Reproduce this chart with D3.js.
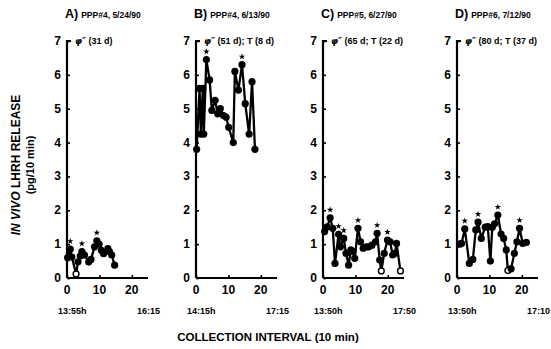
<!DOCTYPE html>
<html>
<head>
<meta charset="utf-8">
<script src="https://cdn.jsdelivr.net/npm/d3@7"></script>
<style>
  body { margin: 0; background: #fff; }
  text, tspan { font-family: "Liberation Sans", Arial, sans-serif; font-weight: bold; fill: #000; }
</style>
</head>
<body>
<script>
// panel data (x = collection interval, y = LHRH pg/10 min)
const aX = [0.2, 1, 1.5, 2.8, 3.4, 4.1, 4.6, 5.4, 6.7, 7.4, 8.5, 9.2, 9.9, 10.6, 11.3, 12.6, 13.1, 13.8, 14.7];
const aY = [0.6, 0.85, 0.62, 0.12, 0.48, 0.65, 0.78, 0.68, 0.47, 0.55, 0.92, 1.1, 1.0, 0.82, 0.72, 0.87, 0.78, 0.68, 0.38];
const aStar = [1, 6, 11];
const aOpen = [3];

const bX = [0.2, 1.1, 1.5, 2.1, 2.4, 3.2, 4.2, 4.9, 5.9, 6.7, 7.5, 8.5, 9.3, 10.1, 11.5, 12.0, 13.1, 14.2, 15.2, 16.4, 17.3, 18.2];
const bY = [3.8, 5.6, 4.25, 5.6, 4.25, 6.45, 5.85, 4.95, 5.25, 4.85, 5.0, 4.8, 4.75, 4.45, 4.0, 6.1, 5.55, 6.3, 5.15, 4.25, 5.8, 3.8];
const bStar = [5, 17];
const bOpen = [];

const cX = [0.5, 1.3, 2.2, 3.0, 3.7, 4.8, 5.4, 6.4, 7.1, 7.9, 8.6, 9.3, 9.8, 10.8, 11.6, 12.4, 13.4, 14.1, 15.1, 16.2, 16.7, 17.5, 18.0, 18.9, 19.9, 20.7, 21.5, 22.2, 22.7, 23.9];
const cY = [1.37, 1.51, 1.78, 1.47, 0.43, 1.29, 0.92, 1.17, 0.73, 0.38, 0.83, 0.78, 0.58, 1.47, 1.07, 0.88, 0.92, 0.92, 0.97, 1.07, 1.32, 0.53, 0.21, 0.73, 1.12, 1.07, 0.68, 0.73, 1.02, 0.21];
const cStar = [2, 5, 7, 13, 20, 24];
const cOpen = [22, 29];

const dX = [0.8, 1.4, 2.4, 3.8, 4.9, 5.8, 6.5, 7.5, 8.7, 9.5, 10.3, 10.9, 11.6, 12.6, 13.6, 14.4, 15.2, 15.7, 16.7, 17.7, 18.5, 19.3, 20.3, 21.4];
const dY = [1.0, 1.02, 1.45, 0.43, 0.55, 1.42, 1.65, 1.17, 1.5, 1.52, 0.5, 1.5, 1.6, 1.86, 1.3, 1.17, 0.83, 0.22, 0.27, 0.73, 1.07, 1.47, 1.02, 1.05];
const dStar = [2, 6, 13, 21];
const dOpen = [17];

const letters = ["A)", "B)", "C)", "D)"];
const titles = ["PPP#4, 5/24/90", "PPP#4, 6/13/90", "PPP#5, 6/27/90", "PPP#6, 7/12/90"];
const notes = [" (31 d)", " (51 d); T (8 d)", " (65 d; T (22 d)", " (80 d; T (37 d)"];
const noteSymbol = "\u03c6\u2033";
const startTimes = ["13:55h", "14:15h", "13:50h", "13:50h"];
const endTimes = ["16:15", "17:15", "17:50", "17:10"];
const yTicks = [0, 1, 2, 3, 4, 5, 6, 7];
const xTicks = [0, 10, 20];

const panels = [
  {x: aX, y: aY, star: aStar, open: aOpen},
  {x: bX, y: bY, star: bStar, open: bOpen},
  {x: cX, y: cY, star: cStar, open: cOpen},
  {x: dX, y: dY, star: dStar, open: dOpen}
];

const W = 551, H = 349;
const left0 = [67, 196, 323, 457];
const pw = 81;

const svg = d3.select("body").append("svg").attr("width", W).attr("height", H);

const yScale = d3.scaleLinear().domain([0, 7]).range([278, 41]);
const starShape = d3.symbol().type(d3.symbolStar).size(13);

panels.forEach((p, i) => {
  const x0 = left0[i];
  const xScale = d3.scaleLinear().domain([0, 25]).range([x0, x0 + pw]);
  const g = svg.append("g");

  // axes
  const yAxis = d3.axisRight(yScale).tickValues(yTicks).tickSize(3).tickFormat("");
  g.append("g").attr("transform", "translate(" + x0 + ",0)").call(yAxis)
    .call(s => s.select(".domain").attr("stroke-width", 2.2).attr("d", "M4," + yScale(7) + "H0V" + yScale(0)))
    .call(s => s.selectAll(".tick line").attr("stroke-width", 1.6));
  const xAxis = d3.axisTop(xScale).tickValues(xTicks).tickSize(3).tickFormat("");
  g.append("g").attr("transform", "translate(0," + yScale(0) + ")").call(xAxis)
    .call(s => s.select(".domain").attr("stroke-width", 2.2).attr("d", "M" + x0 + ",0H" + (x0 + pw)))
    .call(s => s.selectAll(".tick line").attr("stroke-width", 1.6));

  // tick labels
  g.selectAll(".yl").data(yTicks).enter().append("text")
    .attr("x", x0 - 6).attr("y", d => yScale(d) + 4)
    .attr("text-anchor", "end").style("font-size", "12px").text(d => d);
  g.selectAll(".xl").data(xTicks).enter().append("text")
    .attr("x", d => xScale(d)).attr("y", 294)
    .attr("text-anchor", "middle").style("font-size", "12px").text(d => d);

  // times
  g.append("text").attr("x", x0 - 9).attr("y", 314).style("font-size", "9px").text(startTimes[i]);
  g.append("text").attr("x", x0 + 93).attr("y", 314).attr("text-anchor", "end").style("font-size", "9px").text(endTimes[i]);

  // title
  const t = g.append("text").attr("x", x0 - 2).attr("y", 18);
  t.append("tspan").style("font-size", "12.5px").text(letters[i]);
  t.append("tspan").style("font-size", "8.5px").attr("dx", 3).text(titles[i]);

  // note
  const n = g.append("text").attr("x", x0 + 8).attr("y", yScale(7) + 3).style("font-size", "9px");
  n.append("tspan").style("font-family", "'DejaVu Sans'").style("font-style", "italic").text(noteSymbol);
  n.append("tspan").text(notes[i]);

  // series
  const pts = p.x.map((v, k) => ({x: v, y: p.y[k], k: k}));
  const line = d3.line().x(d => xScale(d.x)).y(d => yScale(d.y));
  g.append("path").datum(pts).attr("d", line)
    .attr("fill", "none").attr("stroke", "#000").attr("stroke-width", 2.3).attr("stroke-linejoin", "round");
  g.selectAll(".pt").data(pts).enter().append("circle")
    .attr("cx", d => xScale(d.x)).attr("cy", d => yScale(d.y))
    .attr("r", d => p.open.includes(d.k) ? 2.9 : 3.6)
    .attr("fill", d => p.open.includes(d.k) ? "#fff" : "#000")
    .attr("stroke", "#000").attr("stroke-width", d => p.open.includes(d.k) ? 1.4 : 0);
  // significant pulses
  g.selectAll(".st").data(pts.filter(d => p.star.includes(d.k))).enter().append("path")
    .attr("d", starShape)
    .attr("transform", d => "translate(" + xScale(d.x) + "," + (yScale(d.y) - 8) + ")")
    .attr("fill", "#000");
});

// y title
const yt = svg.append("text").attr("transform", "translate(20,165) rotate(-90)")
  .attr("text-anchor", "middle").style("font-size", "12px");
yt.append("tspan").style("font-style", "italic").text("IN VIVO");
yt.append("tspan").text(" LHRH RELEASE");
svg.append("text").attr("transform", "translate(34,165) rotate(-90)")
  .attr("text-anchor", "middle").style("font-size", "11px").text("(pg/10 min)");

// x title
svg.append("text").attr("x", 268).attr("y", 341).attr("text-anchor", "middle")
  .style("font-size", "11.5px").text("COLLECTION INTERVAL (10 min)");
</script>
</body>
</html>
